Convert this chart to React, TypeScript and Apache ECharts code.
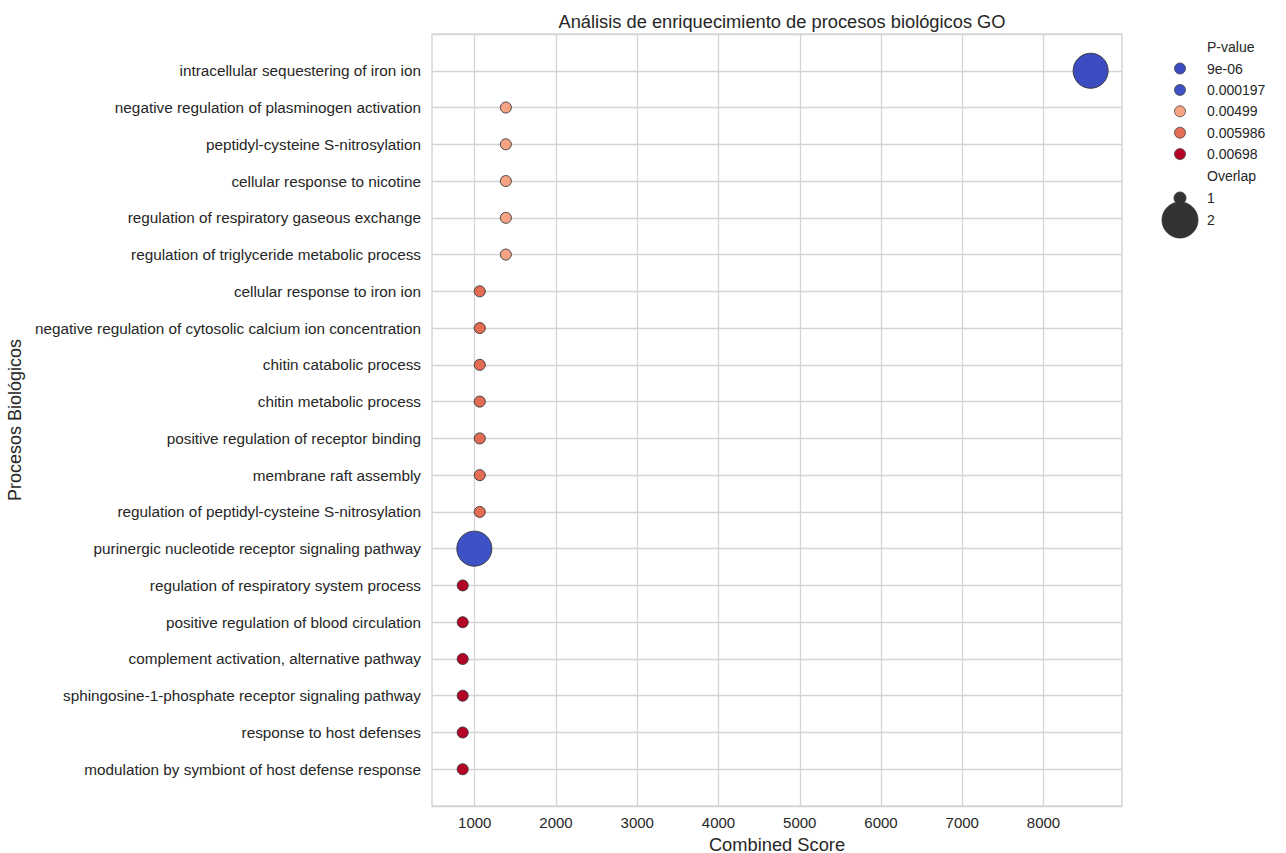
import React, { useEffect, useRef } from "react";
import * as echarts from "echarts";

const terms: string[] = [
  "intracellular sequestering of iron ion",
  "negative regulation of plasminogen activation",
  "peptidyl-cysteine S-nitrosylation",
  "cellular response to nicotine",
  "regulation of respiratory gaseous exchange",
  "regulation of triglyceride metabolic process",
  "cellular response to iron ion",
  "negative regulation of cytosolic calcium ion concentration",
  "chitin catabolic process",
  "chitin metabolic process",
  "positive regulation of receptor binding",
  "membrane raft assembly",
  "regulation of peptidyl-cysteine S-nitrosylation",
  "purinergic nucleotide receptor signaling pathway",
  "regulation of respiratory system process",
  "positive regulation of blood circulation",
  "complement activation, alternative pathway",
  "sphingosine-1-phosphate receptor signaling pathway",
  "response to host defenses",
  "modulation by symbiont of host defense response",
];

const combinedScore: number[] = [
  8580, 1383, 1383, 1383, 1383, 1383, 1062, 1062, 1062, 1062, 1062, 1062, 1062,
  995, 852, 852, 852, 852, 852, 852,
];

const pValues: number[] = [
  0.000009, 0.00499, 0.00499, 0.00499, 0.00499, 0.00499, 0.005986, 0.005986,
  0.005986, 0.005986, 0.005986, 0.005986, 0.005986, 0.000197, 0.00698, 0.00698,
  0.00698, 0.00698, 0.00698, 0.00698,
];

const overlap: number[] = [2, 1, 1, 1, 1, 1, 1, 1, 1, 1, 1, 1, 1, 2, 1, 1, 1, 1, 1, 1];

const pLevels: number[] = [0.000009, 0.000197, 0.00499, 0.005986, 0.00698];
const pLabels: string[] = ["9e-06", "0.000197", "0.00499", "0.005986", "0.00698"];
const pColors: string[] = ["#3b4cc0", "#3e51c5", "#f5a384", "#e36c55", "#b40426"];
const overlapLevels: number[] = [1, 2];

const xTicks: number[] = [1000, 2000, 3000, 4000, 5000, 6000, 7000, 8000];

const FONT = "'Liberation Sans', Arial, sans-serif";
const TEXT = "#262626";
const sizeFor = (o: number) => (o === 2 ? 35 : 11);
const colorFor = (p: number) => pColors[pLevels.indexOf(p)] ?? "#888";

export default function App() {
  const ref = useRef<HTMLDivElement>(null);

  useEffect(() => {
    document.body.style.margin = "0";
    const chart = echarts.init(ref.current!, null, { renderer: "svg" });

    const data = terms.map((t, i) => ({
      value: [combinedScore[i], i, pValues[i], overlap[i]],
      symbolSize: sizeFor(overlap[i]),
      itemStyle: { color: colorFor(pValues[i]) },
    }));

    const legendX = 1180;
    const textX = 1207;
    const LF = `14px ${FONT}`;
    const legendEls: any[] = [];
    legendEls.push({
      type: "text",
      x: textX,
      y: 47,
      style: { text: "P-value", fill: TEXT, font: LF, verticalAlign: "middle" },
    });
    pLabels.forEach((lab, i) => {
      const y = 68.5 + i * 21.4;
      legendEls.push({
        type: "circle",
        shape: { cx: legendX, cy: y, r: 5.5 },
        style: { fill: pColors[i], stroke: "#444", lineWidth: 0.8 },
      });
      legendEls.push({
        type: "text",
        x: textX,
        y,
        style: { text: lab, fill: TEXT, font: LF, verticalAlign: "middle" },
      });
    });
    legendEls.push({
      type: "text",
      x: textX,
      y: 176,
      style: { text: "Overlap", fill: TEXT, font: LF, verticalAlign: "middle" },
    });
    const oY = [198, 220];
    overlapLevels.forEach((o, i) => {
      legendEls.push({
        type: "circle",
        shape: { cx: legendX, cy: oY[i], r: sizeFor(o) / 2 + 0.5 },
        style: { fill: "#333333", stroke: "#333333", lineWidth: 0.8 },
      });
      legendEls.push({
        type: "text",
        x: textX,
        y: oY[i],
        style: { text: String(o), fill: TEXT, font: LF, verticalAlign: "middle" },
      });
    });

    chart.setOption({
      animation: false,
      backgroundColor: "#ffffff",
      textStyle: { fontFamily: FONT },
      title: {
        text: "Análisis de enriquecimiento de procesos biológicos GO",
        left: 777,
        top: 7,
        textAlign: "center",
        textStyle: { fontFamily: FONT, fontSize: 18.3, fontWeight: "normal", color: TEXT },
      },
      grid: {
        left: 432,
        right: 164,
        top: 34,
        bottom: 47,
        outerBoundsMode: "none",
        containLabel: false,
        show: true,
        borderColor: "#cccccc",
        borderWidth: 1.25,
        backgroundColor: "transparent",
      },
      xAxis: {
        type: "value",
        min: 474,
        max: 8966,
        name: "Combined Score",
        nameLocation: "middle",
        nameGap: 29,
        nameTextStyle: { fontFamily: FONT, fontSize: 18.3, color: TEXT },
        axisLine: { show: false },
        axisTick: { show: false, customValues: xTicks },
        axisLabel: {
          customValues: xTicks,
          fontFamily: FONT,
          fontSize: 15,
          color: TEXT,
          margin: 9,
          formatter: (v: number) => String(v),
        },
        splitLine: { show: true, lineStyle: { color: "#d4d4d4", width: 1.3 } },
      },
      yAxis: {
        type: "value",
        inverse: true,
        min: -1,
        max: 20,
        interval: 1,
        name: "Procesos Biológicos",
        nameLocation: "middle",
        nameGap: 399,
        nameRotate: 90,
        nameTextStyle: { fontFamily: FONT, fontSize: 18, color: TEXT },
        axisLine: { show: false },
        axisTick: { show: false },
        axisLabel: {
          fontFamily: FONT,
          fontSize: 15.3,
          color: TEXT,
          margin: 11,
          formatter: (v: number) => terms[v] ?? "",
        },
        splitLine: { show: true, lineStyle: { color: "#d4d4d4", width: 1.3 } },
      },
      series: [
        {
          type: "scatter",
          data,
          z: 3,
          itemStyle: { borderColor: "#333333", borderWidth: 0.9, opacity: 1 },
        },
      ],
      graphic: legendEls,
    });

    return () => chart.dispose();
  }, []);

  return <div ref={ref} style={{ width: 1286, height: 853 }} />;
}
